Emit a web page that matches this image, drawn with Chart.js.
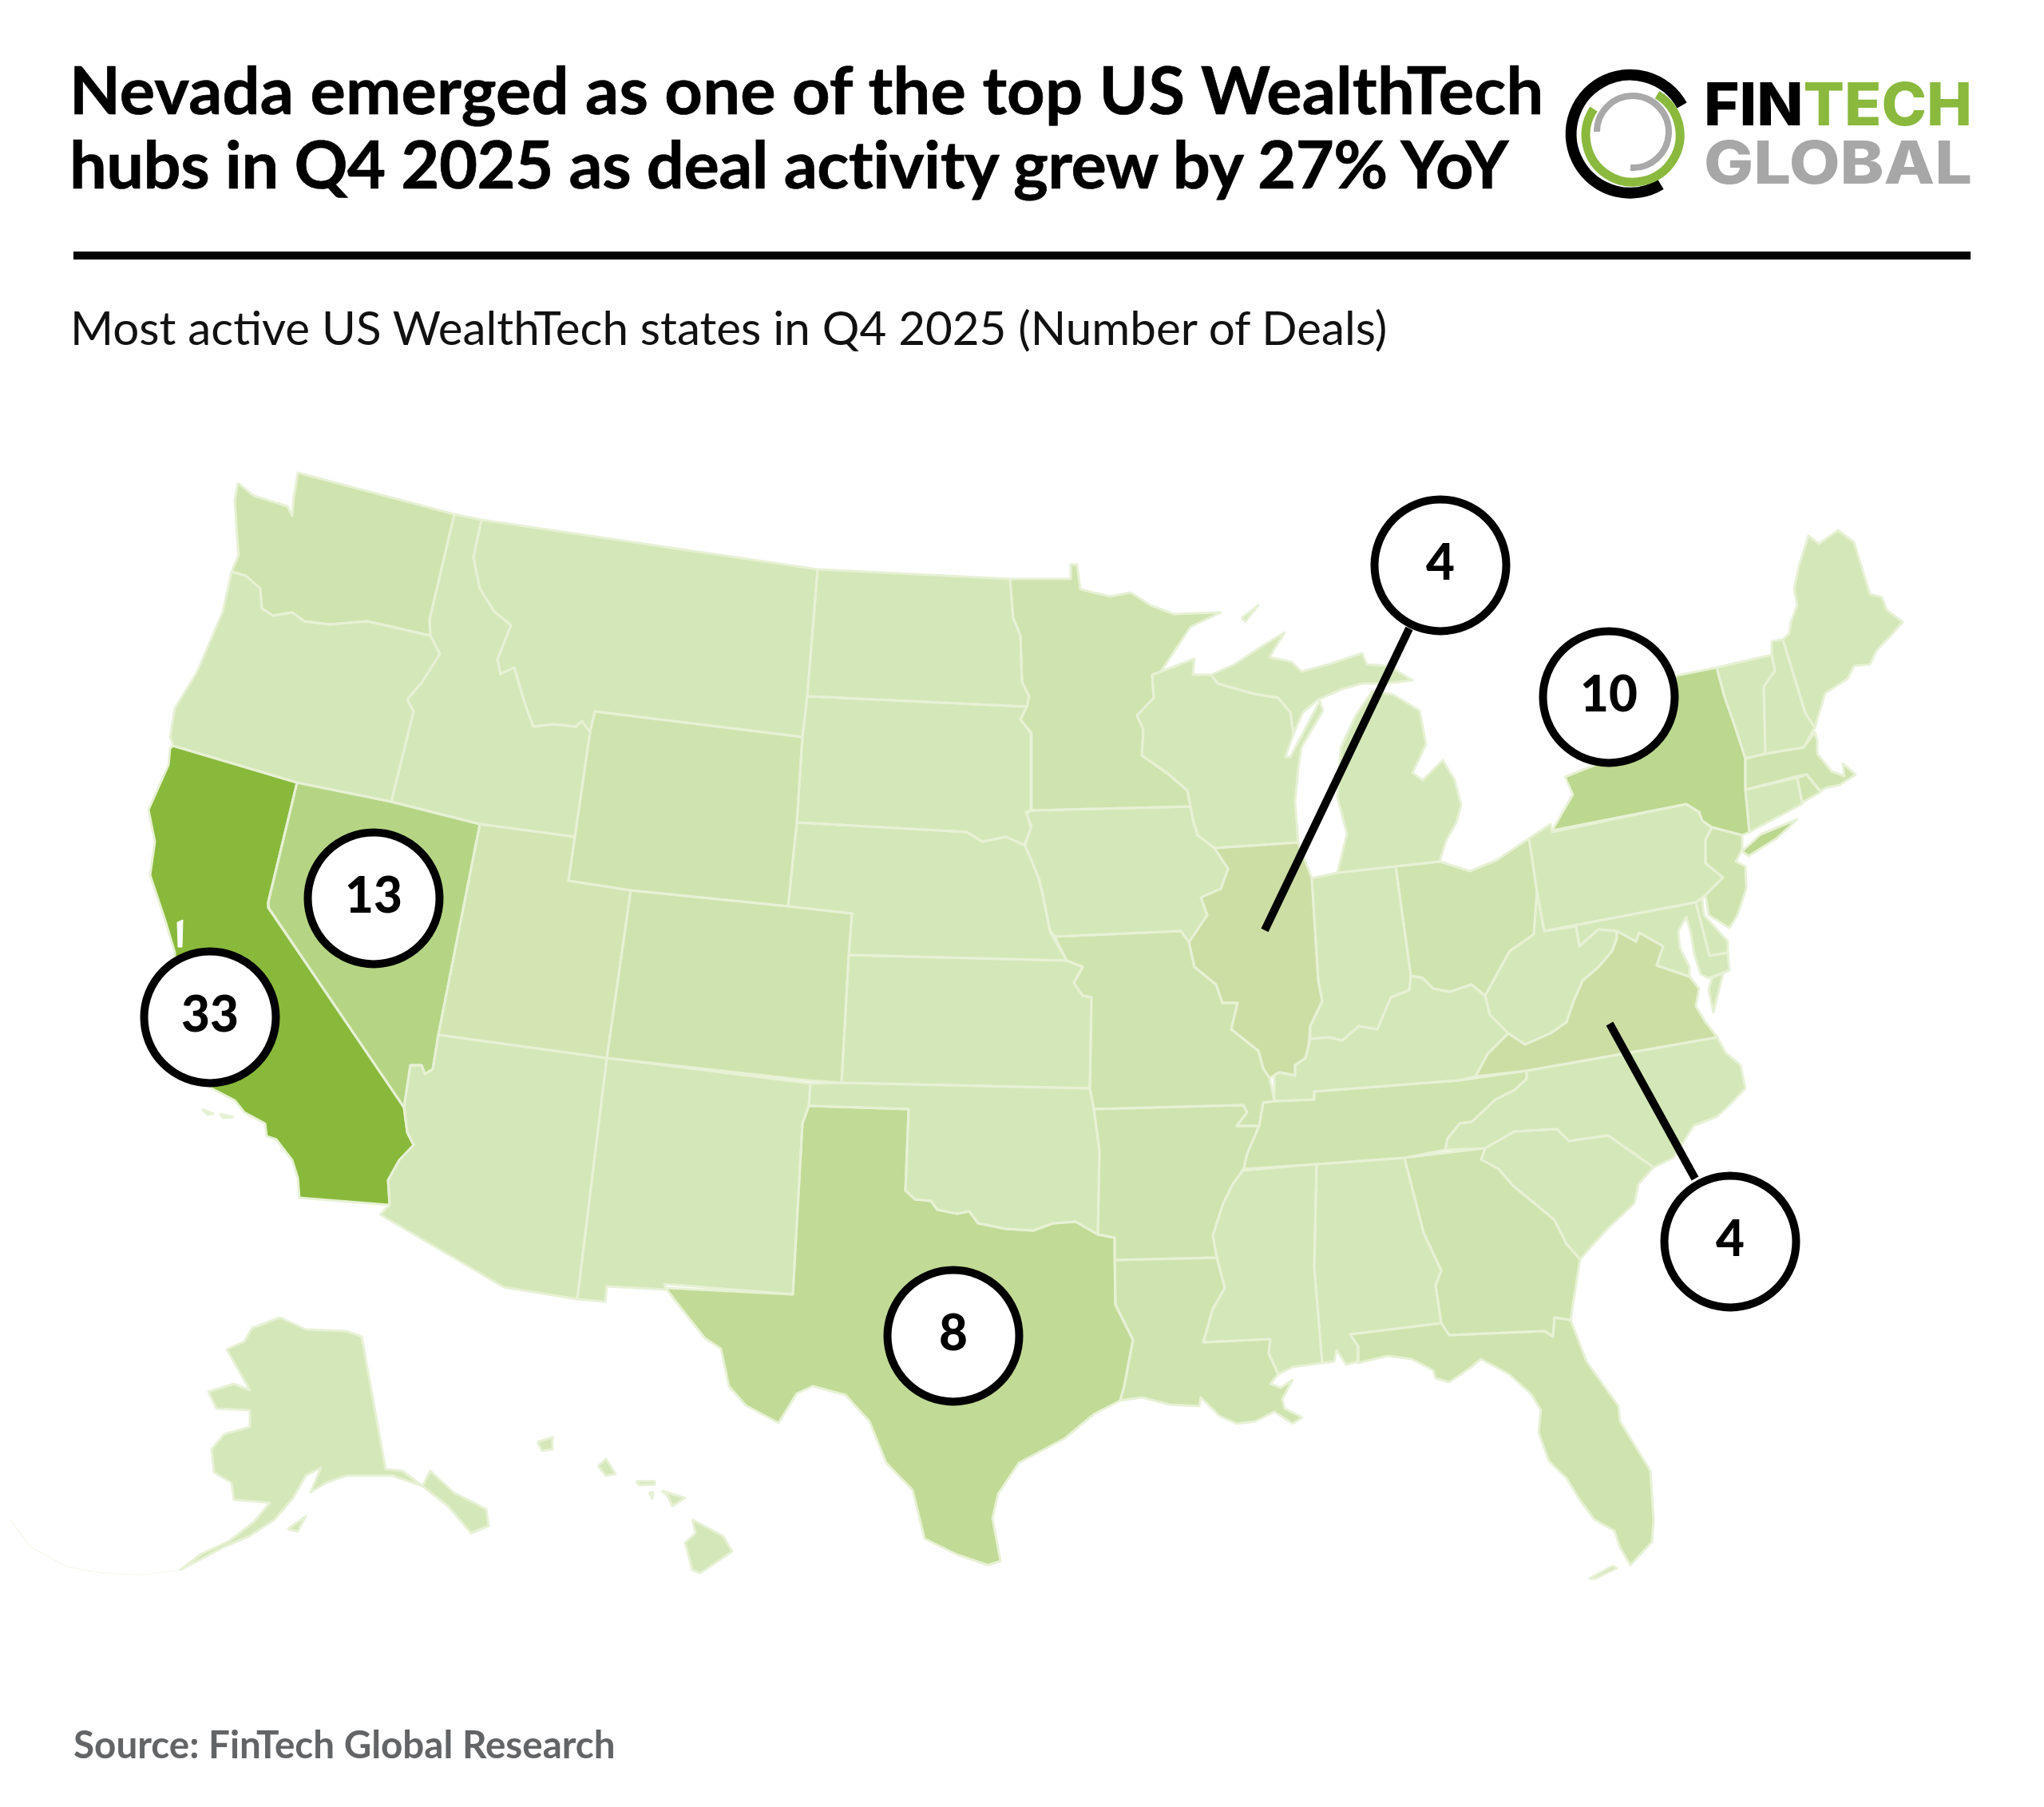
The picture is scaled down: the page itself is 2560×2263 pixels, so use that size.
<!DOCTYPE html>
<html>
<head>
<meta charset="utf-8">
<title>US WealthTech hubs Q4 2025</title>
<script src="https://cdn.jsdelivr.net/npm/chart.js@4/dist/chart.umd.min.js"></script>
<style>
html, body { margin: 0; padding: 0; background: #fff; }
#page { position: relative; width: 2560px; height: 2263px; overflow: hidden; font-family: Lato, sans-serif; }
#map { position: absolute; left: 0; top: 0; }
.txt { position: absolute; white-space: nowrap; line-height: 1; }
#t1, #t2 { left: 87px; font-size: 83px; font-weight: 700; color: #000; -webkit-text-stroke: 0.7px #000; }
#t1 { top: 70px; letter-spacing: 0.17px; }
#t2 { top: 163px; letter-spacing: -0.5px; }
#rule { position: absolute; left: 92px; top: 315px; width: 2376px; height: 10px; background: #000; }
#sub { left: 88px; top: 380px; font-size: 58.3px; color: #111; }
#src { left: 92px; top: 2160px; font-size: 47.6px; font-weight: 700; color: #636466; }
#logo { position: absolute; left: 1940px; top: 70px; }
</style>
</head>
<body>
<div id="page">
  <canvas id="map" width="2560" height="2263"></canvas>
  <div class="txt" id="t1">Nevada emerged as one of the top US WealthTech</div>
  <div class="txt" id="t2">hubs in Q4 2025 as deal activity grew by 27% YoY</div>
  <div id="rule"></div>
  <div class="txt" id="sub">Most active US WealthTech states in Q4 2025 (Number of Deals)</div>
  <div class="txt" id="src">Source: FinTech Global Research</div>
  <svg id="logo" width="560" height="200" viewBox="1940 70 560 200">
    <path d="M2106.5 132 A74 74 0 1 0 2080 231" fill="none" stroke="#000" stroke-width="14"/>
    <path d="M1996 136.5 A59 59 0 1 0 2075.5 118.6" fill="none" stroke="#8ab93e" stroke-width="11"/>
    <path d="M2000 165 A45 45 0 1 1 2042 210" fill="none" stroke="#a9a9a9" stroke-width="8"/>
    <text x="2134" y="157" font-family="Inter" font-weight="800" font-size="74" textLength="336" lengthAdjust="spacingAndGlyphs"><tspan fill="#000">FIN</tspan><tspan fill="#8ab93e">TECH</tspan></text>
    <text x="2134" y="230" font-family="Inter" font-weight="800" font-size="74" fill="#a7a7a7" textLength="336" lengthAdjust="spacingAndGlyphs">GLOBAL</text>
  </svg>
</div>
<script>
// deals per state
const dealStates = ['California', 'Nevada', 'New York', 'Texas', 'Illinois', 'Virginia'];
const dealCounts = [33, 13, 10, 8, 4, 4];
const bubbleX = [263, 468, 2015, 1194, 1804, 2167];
const bubbleY = [1274, 1125, 873, 1673, 708, 1555];

// callout leaders
const leaderIllinois = [1765, 787, 1584, 1165];
const leaderVirginia = [2016, 1282, 2123, 1476];

// state outlines, x,y pairs on the map scales
const WA = [298,605, 294,626, 298,687, 299,695, 290,716, 308,721, 326,737, 328,762, 342,771, 366,767, 381,778, 413,782, 460,778, 500,787, 539,796, 538,776, 569,644, 373,592, 368,623, 366,646, 360,634, 318,621];
const OR = [290,716, 308,721, 326,737, 328,762, 342,771, 366,767, 381,778, 413,782, 460,778, 500,787, 539,796, 551,819, 528,855, 510,876, 518,891, 490,1004, 372,980, 217,934, 213,923, 219,887, 247,841, 279,766];
const CA = [217,934, 372,980, 336,1130, 336,1137, 506,1387, 510,1418, 518,1434, 500,1453, 486,1478, 488,1509, 375,1500, 373,1475, 366,1453, 346,1427, 334,1423, 332,1407, 306,1393, 294,1378, 263,1362, 240,1330, 215,1250, 219,1193, 207,1153, 188,1096, 194,1054, 186,1014, 211,958, 213,937];
const NV = [372,980, 490,1004, 601,1032, 549,1296, 542,1339, 532,1345, 528,1334, 514,1334, 506,1387, 336,1136, 336,1129];
const ID = [569,644, 603,651, 593,698, 601,737, 619,766, 640,783, 630,808, 623,826, 627,844, 644,836, 658,883, 668,910, 694,907, 721,910, 729,903, 739,917, 720,1048, 601,1032, 490,1004, 518,891, 510,876, 528,855, 551,819, 539,796, 538,776];
const MT = [603,651, 1024,713, 1011,872, 1005,923, 745,891, 739,917, 729,903, 721,910, 694,907, 668,910, 658,883, 644,836, 627,844, 623,826, 630,808, 640,783, 619,766, 601,737, 593,698];
const WY = [745,891, 1005,923, 998,1030, 987,1135, 790,1115, 712,1103, 720,1048, 739,917];
const UT = [601,1032, 720,1048, 712,1103, 790,1115, 760,1325, 549,1296];
const CO = [790,1115, 987,1135, 1067,1144, 1063,1196, 1054,1356, 1013,1353, 760,1325];
const AZ = [549,1296, 760,1325, 723,1627, 631,1612, 476,1521, 488,1509, 486,1478, 500,1453, 518,1434, 510,1418, 506,1387, 514,1334, 528,1334, 532,1345, 542,1339];
const NM = [760,1325, 1015,1357, 1013,1385, 1005,1407, 993,1621, 832,1608, 834,1615, 760,1611, 758,1630, 723,1627];
const TX = [1013,1385, 1138,1389, 1134,1491, 1146,1502, 1166,1504, 1174,1515, 1199,1520, 1214,1517, 1225,1532, 1260,1539, 1294,1541, 1319,1532, 1347,1530, 1375,1546, 1396,1550, 1397,1634, 1419,1678, 1408,1736, 1403,1754, 1370,1771, 1334,1801, 1276,1832, 1250,1871, 1243,1901, 1253,1955, 1237,1960, 1199,1947, 1158,1927, 1143,1866, 1110,1832, 1089,1780, 1059,1747, 1018,1736, 998,1745, 975,1782, 934,1760, 913,1736, 903,1689, 883,1676, 845,1628, 834,1613, 993,1621, 1005,1407];
const OK = [1015,1357, 1054,1356, 1365,1363, 1370,1389, 1377,1441, 1375,1546, 1347,1530, 1319,1532, 1294,1541, 1260,1539, 1225,1532, 1214,1517, 1199,1520, 1174,1515, 1166,1504, 1146,1502, 1134,1491, 1138,1389, 1013,1385];
const KS = [1063,1196, 1336,1203, 1356,1211, 1345,1231, 1356,1247, 1367,1249, 1365,1363, 1054,1356];
const NE = [998,1030, 1211,1042, 1230,1054, 1260,1048, 1284,1059, 1299,1095, 1306,1120, 1315,1167, 1336,1203, 1063,1196, 1067,1144, 987,1135];
const SD = [1011,872, 1286,885, 1278,901, 1291,917, 1291,1013, 1286,1019, 1291,1037, 1284,1059, 1260,1048, 1230,1054, 1211,1042, 998,1030, 1005,923];
const ND = [1024,713, 1265,725, 1269,774, 1278,796, 1280,854, 1289,872, 1286,885, 1011,872];
const MN = [1265,725, 1341,725, 1341,707, 1349,707, 1353,738, 1390,747, 1416,742, 1441,758, 1470,769, 1529,767, 1491,785, 1454,841, 1443,845, 1445,874, 1424,896, 1432,914, 1430,946, 1464,970, 1487,990, 1491,1010, 1292,1015, 1292,919, 1278,901, 1286,885, 1289,872, 1280,854, 1278,796, 1269,774];
const WI = [1443,845, 1454,841, 1496,825, 1494,845, 1517,845, 1525,856, 1571,869, 1601,874, 1616,892, 1620,919, 1610,948, 1616,948, 1653,878, 1657,890, 1630,936, 1626,963, 1622,1004, 1626,1055, 1521,1062, 1500,1046, 1494,1026, 1491,1010, 1487,990, 1464,970, 1430,946, 1432,914, 1424,896, 1445,874];
const MI_UPPER = [1517,845, 1546,832, 1584,807, 1609,792, 1590,823, 1618,829, 1630,841, 1664,832, 1706,818, 1712,832, 1740,834, 1769,852, 1736,856, 1706,856, 1681,863, 1651,876, 1632,892, 1620,919, 1616,892, 1601,874, 1571,869, 1525,856];
const MI_LOWER = [1719,865, 1745,870, 1778,890, 1786,932, 1769,968, 1782,977, 1807,952, 1822,977, 1830,1008, 1824,1030, 1811,1053, 1803,1079, 1748,1085, 1675,1093, 1687,1044, 1675,999, 1679,937, 1698,896];
const IL = [1521,1062, 1626,1055, 1635,1079, 1643,1100, 1651,1227, 1656,1254, 1641,1285, 1639,1309, 1635,1325, 1622,1334, 1622,1347, 1603,1343, 1590,1350, 1582,1338, 1576,1316, 1542,1289, 1550,1256, 1531,1256, 1523,1233, 1496,1211, 1489,1180, 1512,1146, 1504,1124, 1529,1113, 1538,1088];
const IA = [1292,1015, 1491,1010, 1494,1026, 1500,1046, 1521,1062, 1538,1088, 1529,1113, 1504,1124, 1512,1146, 1489,1180, 1479,1166, 1321,1173, 1315,1164, 1302,1102, 1283,1057, 1292,1035, 1285,1017];
const MO = [1321,1173, 1479,1166, 1489,1180, 1496,1211, 1523,1233, 1531,1256, 1550,1256, 1542,1289, 1576,1316, 1582,1338, 1590,1350, 1596,1379, 1582,1381, 1577,1410, 1549,1410, 1562,1393, 1557,1384, 1370,1389, 1365,1363, 1367,1249, 1356,1247, 1345,1231, 1356,1211, 1336,1203];
const AR = [1370,1389, 1557,1384, 1562,1393, 1549,1410, 1577,1410, 1562,1445, 1557,1466, 1544,1483, 1532,1507, 1519,1547, 1524,1575, 1396,1578, 1396,1550, 1375,1546, 1377,1441];
const LA = [1396,1578, 1524,1575, 1534,1613, 1519,1639, 1507,1681, 1591,1677, 1589,1695, 1601,1721, 1591,1733, 1604,1738, 1619,1728, 1606,1752, 1609,1764, 1631,1775, 1619,1783, 1596,1768, 1572,1780, 1549,1783, 1527,1773, 1504,1750, 1502,1761, 1465,1759, 1430,1750, 1403,1754, 1408,1736, 1419,1678, 1397,1634];
const MS = [1557,1464, 1649,1458, 1646,1587, 1656,1707, 1619,1712, 1601,1721, 1589,1695, 1591,1677, 1507,1681, 1519,1639, 1534,1613, 1524,1575, 1519,1547, 1532,1507, 1544,1483];
const AL = [1649,1458, 1759,1450, 1783,1544, 1805,1591, 1798,1610, 1805,1657, 1691,1671, 1701,1686, 1701,1705, 1686,1709, 1674,1691, 1671,1705, 1656,1707, 1646,1587];
const GA = [1759,1450, 1860,1438, 1855,1452, 1877,1464, 1895,1485, 1922,1507, 1947,1528, 1962,1558, 1979,1577, 1970,1634, 1967,1653, 1947,1650, 1945,1674, 1935,1667, 1815,1672, 1805,1657, 1798,1610, 1805,1591, 1783,1544];
const FL = [1691,1671, 1805,1657, 1815,1672, 1935,1667, 1945,1674, 1947,1650, 1967,1653, 1987,1705, 2027,1761, 2029,1780, 2067,1842, 2071,1903, 2069,1931, 2042,1960, 2029,1938, 2022,1917, 1997,1903, 1979,1879, 1962,1851, 1940,1830, 1927,1794, 1930,1766, 1917,1745, 1890,1721, 1855,1702, 1840,1714, 1815,1731, 1798,1726, 1795,1716, 1768,1702, 1738,1698, 1701,1707, 1701,1686];
const SC = [1860,1438, 1897,1417, 1950,1414, 1965,1429, 2014,1422, 2071,1462, 2052,1483, 2047,1507, 2012,1540, 1987,1568, 1979,1577, 1962,1558, 1947,1528, 1922,1507, 1895,1485, 1877,1464, 1855,1452];
const NC = [1912,1341, 2151,1299, 2161,1318, 2180,1334, 2186,1363, 2165,1385, 2151,1398, 2121,1410, 2096,1450, 2071,1462, 2014,1422, 1965,1429, 1950,1414, 1897,1417, 1860,1438, 1810,1440, 1813,1426, 1828,1407, 1843,1405, 1873,1377, 1897,1365, 1912,1351];
const TN = [1582,1381, 1596,1379, 1646,1377, 1646,1367, 1828,1353, 1912,1341, 1912,1351, 1897,1365, 1873,1377, 1843,1405, 1828,1407, 1813,1426, 1810,1440, 1759,1450, 1649,1458, 1557,1466, 1562,1445, 1577,1410];
const KY = [1596,1346, 1603,1343, 1622,1347, 1622,1334, 1635,1325, 1639,1309, 1641,1301, 1664,1299, 1681,1303, 1702,1285, 1725,1289, 1742,1249, 1765,1240, 1767,1222, 1782,1225, 1795,1238, 1816,1242, 1843,1233, 1860,1247, 1866,1271, 1889,1294, 1863,1320, 1848,1348, 1828,1353, 1646,1367, 1646,1377, 1596,1379];
const IN = [1643,1100, 1675,1093, 1748,1085, 1767,1222, 1765,1240, 1742,1249, 1725,1289, 1702,1285, 1681,1303, 1664,1299, 1641,1301, 1641,1285, 1656,1254, 1651,1227];
const OH = [1748,1085, 1803,1079, 1841,1091, 1875,1077, 1915,1050, 1925,1117, 1921,1170, 1891,1191, 1873,1223, 1860,1247, 1843,1233, 1816,1242, 1795,1238, 1782,1225, 1767,1222];
const PA = [1915,1050, 1942,1032, 1944,1042, 2112,1007, 2128,1017, 2132,1028, 2144,1036, 2136,1052, 2136,1081, 2158,1099, 2136,1121, 2124,1130, 1934,1166, 1925,1117];
const NY = [1944,1040, 1970,995, 1960,973, 1998,958, 2040,925, 2075,880, 2100,846, 2150,836, 2160,873, 2172,907, 2186,950, 2186,989, 2191,1042, 2182,1046, 2144,1036, 2132,1028, 2128,1017, 2112,1007];
const LONG_ISLAND = [2182,1066, 2205,1045, 2251,1026, 2225,1050, 2190,1072];
const NJ = [2144,1036, 2182,1046, 2182,1064, 2174,1079, 2186,1085, 2187,1113, 2176,1146, 2166,1162, 2140,1146, 2136,1121, 2158,1099, 2136,1081, 2136,1052];
const DE = [2124,1130, 2132,1126, 2134,1146, 2164,1179, 2164,1193, 2141,1197];
const MD = [1934,1166, 2124,1130, 2141,1197, 2164,1193, 2166,1215, 2140,1225, 2130,1220, 2122,1195, 2118,1170, 2112,1148, 2102,1166, 2104,1187, 2116,1211, 2116,1223, 2075,1209, 2083,1185, 2053,1168, 2049,1179, 2025,1166, 2002,1164, 1978,1185, 1974,1160];
const VA_SHORE = [2166,1215, 2158,1219, 2146,1268, 2140,1240, 2144,1225];
const WV = [1934,1166, 1974,1160, 1978,1185, 2002,1164, 2025,1166, 2025,1175, 2019,1191, 2002,1211, 1982,1228, 1970,1256, 1962,1280, 1942,1294, 1910,1308, 1889,1294, 1866,1271, 1860,1247, 1873,1223, 1891,1191, 1921,1170, 1925,1117];
const VA = [2025,1166, 2049,1179, 2053,1168, 2083,1185, 2075,1209, 2116,1223, 2128,1238, 2124,1260, 2136,1280, 2151,1299, 1912,1341, 1848,1348, 1863,1320, 1889,1294, 1910,1308, 1942,1294, 1962,1280, 1970,1256, 1982,1228, 2002,1211, 2019,1191, 2025,1175];
const VT = [2150,836, 2219,820, 2223,840, 2209,860, 2211,944, 2186,950, 2172,907, 2160,873];
const NH = [2219,803, 2233,801, 2261,893, 2273,911, 2259,936, 2211,944, 2209,860, 2223,840, 2219,820];
const ME = [2233,801, 2241,793, 2243,779, 2251,758, 2247,738, 2253,709, 2265,671, 2278,681, 2302,664, 2322,679, 2342,744, 2357,748, 2363,764, 2383,779, 2369,795, 2350,815, 2342,832, 2322,834, 2314,850, 2286,868, 2276,901, 2273,911, 2261,893];
const MA = [2186,950, 2211,944, 2259,936, 2273,917, 2276,928, 2276,944, 2294,966, 2310,972, 2308,956, 2324,970, 2304,983, 2286,987, 2280,991, 2263,970, 2251,972, 2186,989];
const CT = [2186,989, 2251,974, 2257,1007, 2191,1042];
const RI = [2251,974, 2263,970, 2280,992, 2257,1005];
const AK = [351,1650, 383,1665, 434,1667, 453,1674, 483,1840, 504,1842, 529,1861, 539,1842, 568,1869, 609,1890, 612,1911, 590,1920, 561,1886, 529,1861, 491,1848, 434,1848, 408,1857, 389,1869, 402,1838, 383,1848, 367,1876, 344,1903, 312,1924, 281,1937, 255,1951, 226,1966, 252,1946, 287,1930, 319,1905, 338,1882, 293,1878, 290,1857, 268,1844, 265,1815, 281,1796, 313,1787, 313,1766, 271,1764, 261,1743, 293,1733, 313,1741, 284,1690, 306,1680, 316,1663];
const KODIAK = [360,1915, 383,1899, 373,1918];
const KAUAI = [673,1806, 692,1800, 692,1815, 679,1817];
const OAHU = [749,1836, 759,1827, 771,1846, 759,1848];
const MOLOKAI = [797,1855, 820,1855, 820,1859, 800,1860];
const MAUI = [829,1867, 858,1876, 842,1886, 836,1873];
const LANAI = [813,1869, 818,1869, 817,1877];
const BIG_ISLAND = [867,1903, 906,1924, 917,1943, 877,1970, 867,1966, 858,1932, 871,1920];
const ISLE_ROYALE = [1555,774, 1576,758, 1560,778];
const FL_KEYS = [1990,1977, 2020,1961, 2025,1964, 1998,1977];
const CHANNEL_A = [253,1389, 267,1395, 260,1396];
const CHANNEL_B = [275,1395, 292,1399, 280,1400];
const SF_BAY = [222,1155, 229,1152, 228,1186, 223,1186];
const ALEUTIANS = [13,1903, 38,1937, 83,1962, 128,1970, 179,1972, 226,1966];

const lightGreen = '#d4e7b8';
const midGreen = '#cfe3ae';
const mapShapes = [
  ['Washington', WA, midGreen], ['Oregon', OR, lightGreen], ['California', CA, '#89b93b'], ['Nevada', NV, '#b5d584'],
  ['Idaho', ID, lightGreen], ['Montana', MT, lightGreen], ['Wyoming', WY, midGreen], ['Utah', UT, '#d2e5b3'],
  ['Colorado', CO, midGreen], ['Arizona', AZ, lightGreen], ['New Mexico', NM, lightGreen], ['Texas', TX, '#c1da95'],
  ['Oklahoma', OK, lightGreen], ['Kansas', KS, lightGreen], ['Nebraska', NE, lightGreen], ['South Dakota', SD, lightGreen],
  ['North Dakota', ND, lightGreen], ['Minnesota', MN, midGreen], ['Wisconsin', WI, lightGreen], ['Michigan', MI_UPPER, lightGreen],
  ['Michigan', MI_LOWER, lightGreen], ['Illinois', IL, '#cddea5'], ['Iowa', IA, lightGreen], ['Missouri', MO, midGreen],
  ['Arkansas', AR, midGreen], ['Louisiana', LA, midGreen], ['Mississippi', MS, lightGreen], ['Alabama', AL, lightGreen],
  ['Georgia', GA, midGreen], ['Florida', FL, midGreen], ['South Carolina', SC, lightGreen], ['North Carolina', NC, lightGreen],
  ['Tennessee', TN, midGreen], ['Kentucky', KY, lightGreen], ['Indiana', IN, lightGreen], ['Ohio', OH, midGreen],
  ['Pennsylvania', PA, lightGreen], ['New York', NY, '#bcd78e'], ['New York', LONG_ISLAND, '#bcd78e'], ['New Jersey', NJ, midGreen],
  ['Delaware', DE, lightGreen], ['Maryland', MD, lightGreen], ['Virginia', VA_SHORE, lightGreen], ['West Virginia', WV, lightGreen],
  ['Virginia', VA, '#cddea5'], ['Vermont', VT, lightGreen], ['New Hampshire', NH, lightGreen], ['Maine', ME, lightGreen],
  ['Massachusetts', MA, midGreen], ['Connecticut', CT, lightGreen], ['Rhode Island', RI, midGreen], ['Alaska', AK, lightGreen],
  ['Alaska', KODIAK, lightGreen], ['Hawaii', KAUAI, lightGreen], ['Hawaii', OAHU, lightGreen], ['Hawaii', MOLOKAI, lightGreen],
  ['Hawaii', MAUI, lightGreen], ['Hawaii', LANAI, lightGreen], ['Hawaii', BIG_ISLAND, lightGreen], ['Michigan', ISLE_ROYALE, lightGreen],
  ['Florida', FL_KEYS, lightGreen], ['California', CHANNEL_A, '#c9dfa4'], ['California', CHANNEL_B, '#c9dfa4']
];

function toPoints(flat, close) {
  const pts = [];
  for (let i = 0; i < flat.length; i += 2) pts.push({ x: flat[i], y: flat[i + 1] });
  if (close) pts.push({ x: flat[0], y: flat[1] });
  return pts;
}

const datasets = [];

// first dataset is painted last, so the bubbles go in front
datasets.push({
  label: 'Deals',
  order: 0,
  data: dealCounts.map(function (v, i) { return { x: bubbleX[i], y: bubbleY[i], deals: v }; }),
  pointRadius: 82.5,
  pointBackgroundColor: '#fff',
  pointBorderColor: '#000',
  pointBorderWidth: 10,
  showLine: false
});
[leaderIllinois, leaderVirginia].forEach(function (l) {
  datasets.push({ label: 'Leader', order: 1, data: toPoints(l, false), showLine: true, pointRadius: 0, borderColor: '#000', borderWidth: 10, borderCapStyle: 'butt' });
});
datasets.push({ label: 'San Francisco Bay', order: 2, data: toPoints(SF_BAY, true), showLine: true, pointRadius: 0, fill: 'shape', backgroundColor: '#fff', borderColor: '#fff', borderWidth: 1 });
mapShapes.forEach(function (s) {
  datasets.push({
    label: s[0],
    order: 3,
    data: toPoints(s[1], true),
    showLine: true,
    pointRadius: 0,
    fill: 'shape',
    backgroundColor: s[2],
    borderColor: '#e7f1d5',
    borderWidth: 3,
    borderJoinStyle: 'round'
  });
});
datasets.push({ label: 'Aleutians', order: 4, data: toPoints(ALEUTIANS, false), showLine: true, pointRadius: 0, borderColor: '#f6f9f0', borderWidth: 1.5 });

const bubbleLabels = {
  id: 'bubbleLabels',
  afterDatasetsDraw: function (chart) {
    const ctx = chart.ctx;
    const meta = chart.getDatasetMeta(0);
    ctx.save();
    ctx.font = '900 62px Lato';
    ctx.fillStyle = '#000';
    ctx.textAlign = 'center';
    ctx.textBaseline = 'alphabetic';
    meta.data.forEach(function (pt, i) {
      ctx.fillText(String(dealCounts[i]), pt.x, pt.y + 18);
    });
    ctx.restore();
  }
};

new Chart(document.getElementById('map'), {
  type: 'scatter',
  data: { datasets: datasets },
  options: {
    responsive: false,
    animation: false,
    events: [],
    devicePixelRatio: 1,
    layout: { padding: 0, autoPadding: false },
    scales: {
      x: { display: false, min: 0, max: 2560 },
      y: { display: false, min: 0, max: 2263, reverse: true }
    },
    plugins: {
      legend: { display: false },
      tooltip: { enabled: false },
      filler: { drawTime: 'beforeDatasetsDraw' }
    }
  },
  plugins: [bubbleLabels]
});
</script>
</body>
</html>
